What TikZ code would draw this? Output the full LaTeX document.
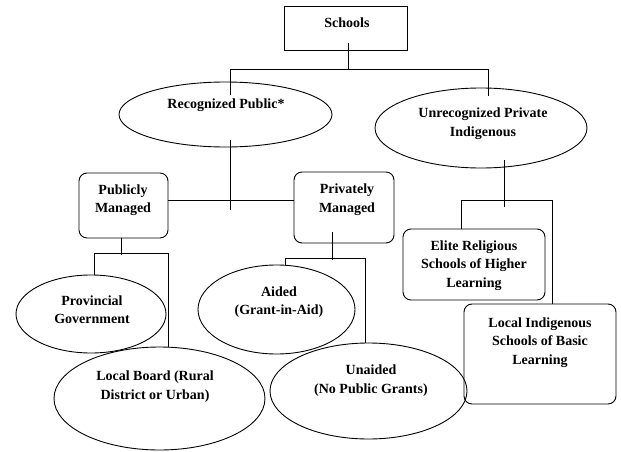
\documentclass[tikz,border=0pt]{standalone}
\usepackage{fontspec}
\setmainfont{Liberation Serif}
\usetikzlibrary{shapes.geometric}
\tikzset{
  box/.style={draw, rectangle, inner sep=0pt},
  rbox/.style={draw, rectangle, rounded corners=8pt, inner sep=0pt},
  oval/.style={draw, ellipse, inner sep=0pt},
  txt/.style={align=center, inner sep=0pt, font=\bfseries\fontsize{14}{18.5}\selectfont}
}
\begin{document}
\begin{tikzpicture}[x=1pt,y=-1pt,line width=0.9pt]
  \useasboundingbox (0,0) rectangle (621,452);
  % shapes
  \node[box,minimum width=123pt,minimum height=44pt] (schools) at (345.5,28) {};
  \node[oval,minimum width=213pt,minimum height=65pt] (recog) at (225.5,114.5) {};
  \node[oval,minimum width=212pt,minimum height=80pt] (unrec) at (481,128) {};
  \node[rbox,minimum width=89pt,minimum height=65pt] (pub) at (123.5,205.5) {};
  \node[rbox,minimum width=100pt,minimum height=71pt] (priv) at (344,207.5) {};
  \node[rbox,minimum width=142pt,minimum height=71pt] (elite) at (474,264.5) {};
  \node[rbox,minimum width=152pt,minimum height=100pt] (local) at (540,354) {};
  \node[oval,minimum width=150pt,minimum height=78pt] (prov) at (91,314) {};
  \node[oval,minimum width=211pt,minimum height=103pt] (lboard) at (159.5,398.5) {};
  \node[oval,minimum width=157pt,minimum height=89pt] (aided) at (276.5,309.5) {};
  \node[oval,minimum width=197pt,minimum height=96pt] (unaided) at (368.5,391) {};

  % labels
  \node[txt] (schoolsT) at (347,23) {Schools};
  \node[txt] (recogT) at (226,105) {Recognized Public*};
  \node[txt] (unrecT) at (483,123.5) {Unrecognized Private\\Indigenous};
  \node[txt] (pubT) at (123,200) {Publicly\\Managed};
  \node[txt] (privT) at (347,199.5) {Privately\\Managed};
  \node[txt] (eliteT) at (474,265.5) {Elite Religious\\Schools of Higher\\Learning};
  \node[txt] (localT) at (540,342.5) {Local Indigenous\\Schools of Basic\\Learning};
  \node[txt] (provT) at (92,309.5) {Provincial\\Government};
  \node[txt] (aidedT) at (279,302) {Aided\\(Grant-in-Aid)};
  \node[txt] (lboardT) at (155,386.5) {Local Board (Rural\\District or Urban)};
  \node[txt] (unaidedT) at (371,380.5) {Unaided\\(No Public Grants)};

  % junctions
  \coordinate (sj) at (348,69);
  \coordinate (sl) at (230,69);
  \coordinate (sr) at (488,69);
  \coordinate (rj) at (230,200);
  \coordinate (uj) at (504,200);
  \coordinate (ul) at (461,200);
  \coordinate (ur) at (552,200);
  \coordinate (pj) at (121,253);
  \coordinate (pl) at (94,253);
  \coordinate (pr) at (168,253);
  \coordinate (qj) at (332,258);
  \coordinate (ql) at (285,258);
  \coordinate (qr) at (365,258);

  % connectors
  \draw ([yshift=7pt]schools.south -| sj) -- (sj);
  \draw ([yshift=-13pt]recog.north -| sl) -- (sl) -- (sr) -- ([yshift=-8pt]unrec.north -| sr);
  \draw ([yshift=7pt]recog.south -| rj) -- ([yshift=-10pt]rj);
  \draw (pub.east |- rj) -- (priv.west |- rj);
  \draw ([yshift=8pt]unrec.south -| uj) -- ([yshift=-7pt]uj);
  \draw (elite.north -| ul) -- (ul) -- (ur) -- (local.north -| ur);
  \draw (pub.south -| pj) -- ([yshift=-2pt]pj);
  \draw (prov.north -| pl) -- (pl) -- (pr) -- (lboard.north -| pr);
  \draw ([yshift=11pt]priv.south -| qj) -- ([yshift=-2pt]qj);
  \draw (aided.north -| ql) -- (ql) -- (qr) -- (unaided.north -| qr);
\end{tikzpicture}
\end{document}
